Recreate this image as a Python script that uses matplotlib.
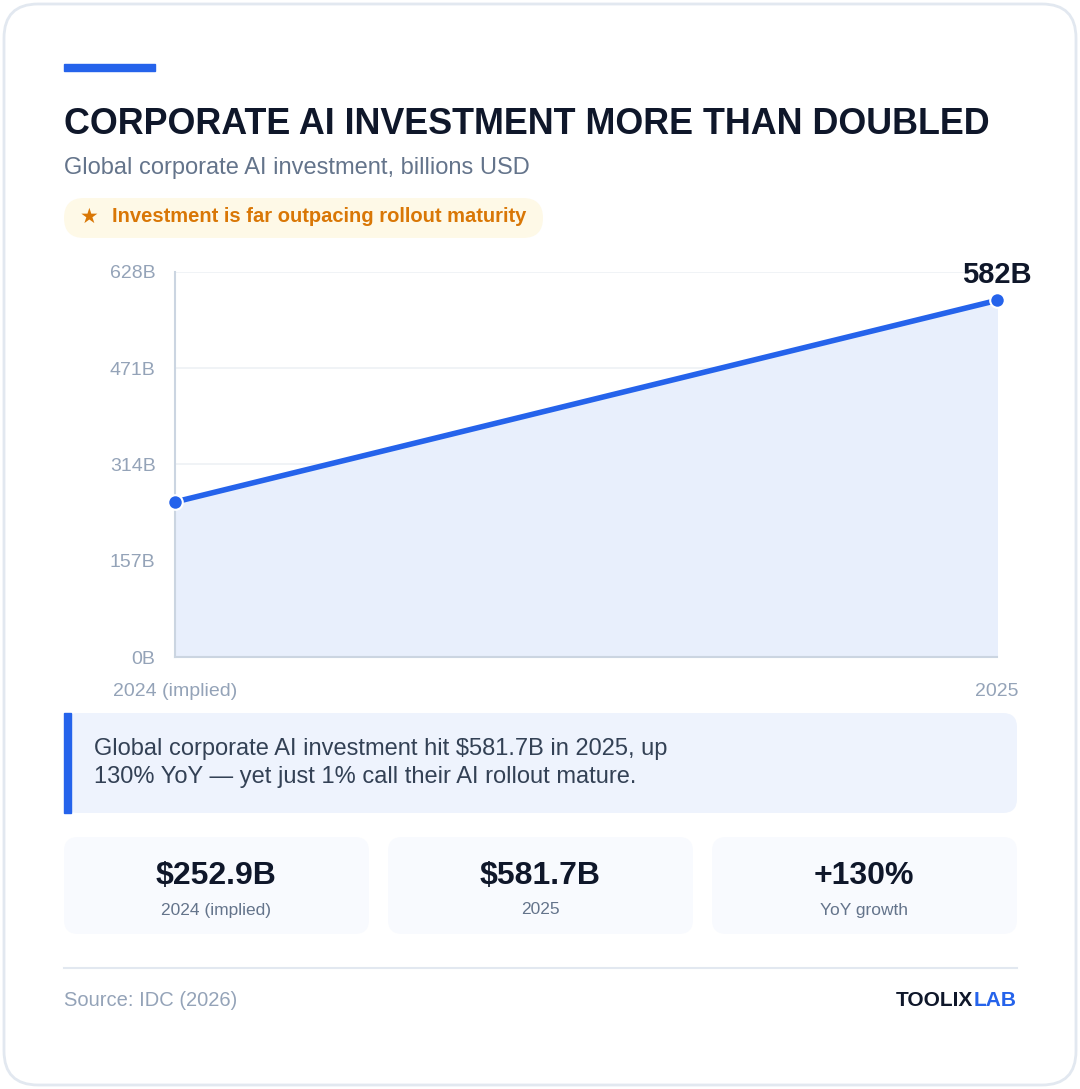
import matplotlib.pyplot as plt
from matplotlib.patches import FancyBboxPatch, Rectangle

plt.rcParams['font.family'] = ['Liberation Sans', 'DejaVu Sans']

years = ['2024 (implied)', '2025']
values = [252.9, 581.7]
yticks = [0, 157, 314, 471, 628]
ytick_labels = ['0B', '157B', '314B', '471B', '628B']
stats = [('$252.9B', '2024 (implied)'), ('$581.7B', '2025'), ('+130%', 'YoY growth')]

W, H = 1080, 1089
fig = plt.figure(figsize=(W / 100, H / 100), dpi=100)
bg = fig.add_axes([0, 0, 1, 1])
bg.set_xlim(0, W)
bg.set_ylim(H, 0)
bg.axis('off')

def box(x, y, w, h, color, r=14, ec='none', lw=0):
    bg.add_patch(FancyBboxPatch((x, y), w, h, boxstyle=f'round,pad=0,rounding_size={r}',
                                fc=color, ec=ec, lw=lw))

box(4, 4, W - 8, H - 8, 'white', r=34, ec='#e2e8f0', lw=2)
bg.add_patch(Rectangle((64, 64), 91, 7, color='#2563eb'))
bg.text(64, 125, 'CORPORATE AI INVESTMENT MORE THAN DOUBLED', fontsize=25.8,
        fontweight='bold', color='#0f172a', va='center')
bg.text(64, 168, 'Global corporate AI investment, billions USD', fontsize=17,
        color='#64748b', va='center')
box(64, 198, 479, 40, '#fef9e7', r=20)
bg.text(80, 217, '★', fontsize=15, color='#d97706', va='center', family=['DejaVu Sans'])
bg.text(112, 216, 'Investment is far outpacing rollout maturity', fontsize=14.5,
        fontweight='bold', color='#d97706', va='center')

# chart
ax = fig.add_axes([175 / W, 1 - 657 / H, (997 - 175) / W, (657 - 272) / H])
x = [0, 1]
ax.fill_between(x, values, color='#e8effc', zorder=1)
ax.plot(x, values, color='#2563eb', lw=4, zorder=3, solid_capstyle='round')
ax.scatter(x, values, s=110, color='#2563eb', edgecolor='white', linewidth=1.5,
           zorder=4, clip_on=False)
ax.text(1, values[1] + 18, f'{round(values[1])}B', ha='center', va='bottom',
        fontsize=21, fontweight='bold', color='#0f172a')
ax.set_xlim(0, 1)
ax.set_ylim(0, 628)
ax.set_yticks(yticks)
ax.set_yticklabels(ytick_labels)
ax.set_xticks(x)
ax.set_xticklabels(years)
ax.tick_params(length=0, labelsize=14, labelcolor='#94a3b8')
ax.tick_params(axis='x', pad=19)
ax.tick_params(axis='y', pad=14)
ax.grid(axis='y', color='#eef1f5', lw=1.2)
ax.set_axisbelow(True)
for s in ['top', 'right']:
    ax.spines[s].set_visible(False)
for s in ['left', 'bottom']:
    ax.spines[s].set_color('#cbd5e1')
    ax.spines[s].set_linewidth(1.5)
ax.patch.set_alpha(0)

# callout
box(64, 713, 953, 100, '#eef3fd', r=14)
bg.add_patch(Rectangle((64, 713), 7, 100, color='#2563eb'))
bg.text(94, 763, 'Global corporate AI investment hit $581.7B in 2025, up\n'
        '130% YoY — yet just 1% call their AI rollout mature.',
        fontsize=17, color='#334155', va='center', linespacing=1.4)

# stat cards
for i, (val, lab) in enumerate(stats):
    x0 = 64 + i * 324
    box(x0, 837, 305, 97, '#f8fafe', r=14)
    bg.text(x0 + 152, 876, val, ha='center', va='center', fontsize=23,
            fontweight='bold', color='#0f172a')
    bg.text(x0 + 152, 910, lab, ha='center', va='center', fontsize=12.5, color='#64748b')

bg.plot([64, 1017], [968, 968], color='#e2e8f0', lw=1.5)
bg.text(64, 1000, 'Source: IDC (2026)', fontsize=14.5, color='#94a3b8', va='center')
bg.text(1017, 1000, 'LAB', fontsize=15, fontweight='bold', color='#2563eb',
        ha='right', va='center')
bg.text(973, 1000, 'TOOLIX', fontsize=15, fontweight='bold', color='#0f172a',
        ha='right', va='center')

fig.savefig('out.png', dpi=100)
